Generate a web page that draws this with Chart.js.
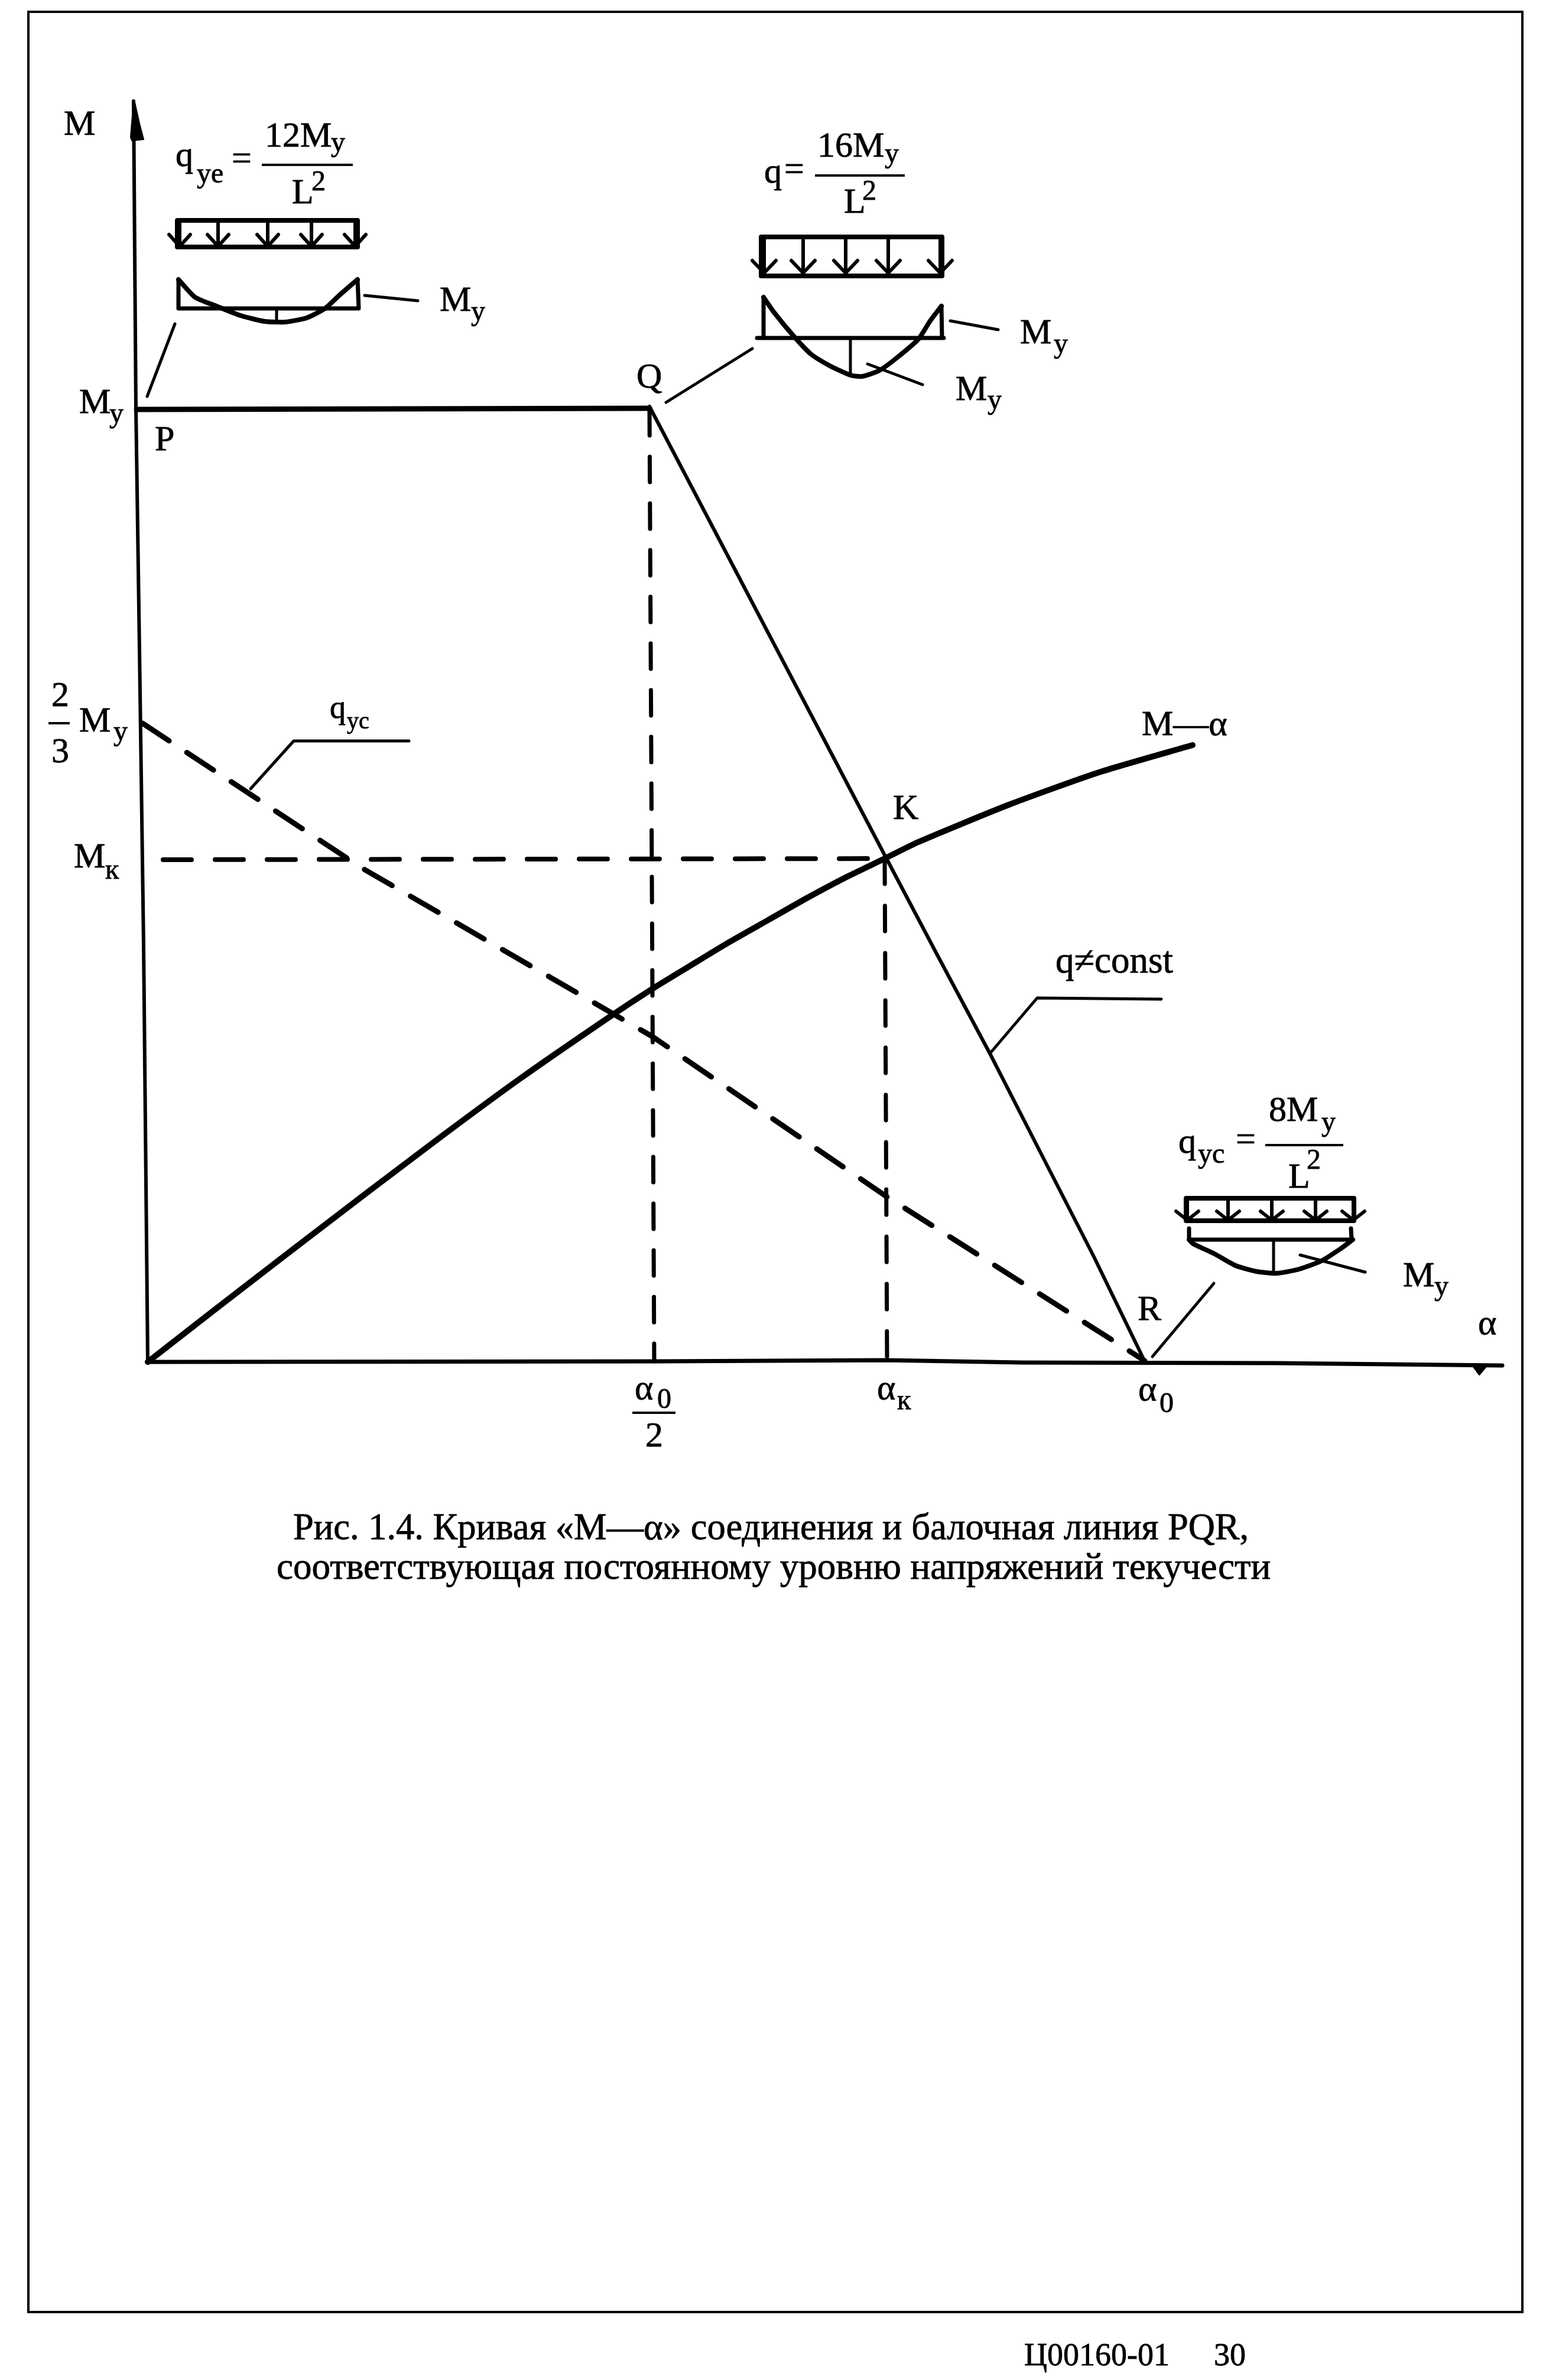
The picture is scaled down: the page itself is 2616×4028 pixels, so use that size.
<!DOCTYPE html>
<html>
<head>
<meta charset="utf-8">
<style>
  html, body { margin: 0; padding: 0; background: #fff; }
  #page { position: relative; width: 2616px; height: 4028px; overflow: hidden; }
  #frame { position: absolute; left: 46px; top: 18px; width: 2524px; height: 3889px; border: 4px solid #000; }
  canvas { position: absolute; left: 0; top: 0; }
</style>
<script src="https://cdn.jsdelivr.net/npm/chart.js@4/dist/chart.umd.min.js"></script>
</head>
<body>
<div id="page">
  <div id="frame"></div>
  <canvas id="chart" width="2616" height="4028"></canvas>
</div>
<script>
// axes (they lean a bit)
const yAxisAlpha = [0, -7, -14, -20, -24];
const yAxisMoment = [0, 705, 1205, 1612, 2134];
const xAxisAlpha = [0, 857, 1250, 1480, 1911, 2292];
const xAxisMoment = [0, 1, 3, -1, -2, -6];
const yArrowAlpha = [-24, -29, -27, -7, -14, -22];
const yArrowMoment = [2134, 2073, 2067, 2069, 2096, 2132];
const xArrowAlpha = [2239, 2253, 2264];
const xArrowMoment = [-3, -22, -9];

// main curves
const curveAlpha = [0, 118, 245, 373, 500, 628, 780, 850, 917, 983, 1050, 1117, 1183, 1247, 1304, 1457, 1610, 1768];
const curveMoment = [0, 92, 190, 288, 384, 478, 583, 629, 670, 710, 748, 786, 821, 852, 880, 943, 998, 1044];
const plateauAlpha = [-19, 849];
const plateauMoment = [1612, 1614];
const beamLineAlpha = [849, 1250, 1338, 1425, 1517, 1600, 1687];
const beamLineMoment = [1617, 852, 685, 522, 342, 180, 1];
const uniformAlpha = [-9, 364, 855, 1250, 1687];
const uniformMoment = [1081, 835, 550, 280, 2];

// dashed guides
const guideMkAlpha = [26, 1248];
const guideMkMoment = [850, 852];
const guideHalfAlpha = [849, 853, 857];
const guideHalfMoment = [1611, 825, 1];
const guideKAlpha = [1247, 1251];
const guideKMoment = [852, 3];

// leaders
const leaders = [
  [[-1, 46], [1634, 1757]],
  [[877, 1023], [1624, 1715]],
  [[1425, 1505, 1715], [522, 616, 614]],
  [[174, 247, 442], [970, 1051, 1051]],
  [[1700, 1804], [9, 133]],
  [[367, 457], [1805, 1796]],
  [[1358, 1439], [1762, 1747]],
  [[1218, 1311], [1689, 1654]],
  [[1950, 2060], [181, 152]]
];

// fraction bars
const fractionBars = [
  [[193, 347], [2026, 2026]],
  [[1129, 1281], [2008, 2008]],
  [[1891, 2023], [367, 367]],
  [[-168, -132], [1081, 1081]],
  [[820, 893], [-86, -86]]
];

// the three little beams: load block, arrows, moment diagram
const loadFrames = [
  [[50, 355, 355, 50, 50], [1932, 1932, 1887, 1887, 1932]],
  [[1038, 1344, 1344, 1038, 1038], [1904, 1904, 1838, 1838, 1904]],
  [[1757, 2041, 2041, 1757, 1757], [277, 277, 239, 239, 277]]
];
const loadArrowsAlpha = [
  [54, 119, 203, 277, 351],
  [1043, 1109, 1181, 1253, 1341],
  [1759, 1828, 1902, 1976, 2040]
];
const loadArrowTop = [1932, 1904, 277];
const loadArrowTip = [1888, 1843, 240];
const loadArrowBarb = [1908, 1864, 255];
const loadArrowSpread = [18, 20, 19];

const momentOutlines = [
  [[355, 357, 52, 52], [1832, 1783, 1783, 1832]],
  [[1343, 1344, 1347, 1031, 1042, 1042], [1787, 1733, 1733, 1733, 1733, 1802]],
  [[2036, 2037, 1762, 1762], [226, 207, 207, 226]]
];
const momentCurves = [
  [[52, 80, 116, 157, 198, 233, 269, 300, 325, 355], [1832, 1802, 1787, 1771, 1761, 1760, 1767, 1783, 1806, 1832]],
  [[1042, 1060, 1094, 1123, 1152, 1189, 1209, 1238, 1267, 1304, 1324, 1343], [1802, 1776, 1735, 1705, 1687, 1670, 1668, 1678, 1699, 1731, 1762, 1787]],
  [[1762, 1769, 1805, 1841, 1877, 1910, 1948, 1986, 2019, 2039], [207, 200, 183, 163, 153, 150, 157, 171, 192, 207]]
];
const momentMids = [
  [[218, 218], [1781, 1761]],
  [[1189, 1189], [1730, 1672]],
  [[1905, 1905], [204, 152]]
];

// tick labels
const xTickLabels = ["α", "0", "2", "α", "к", "α", "0"];
const yTickLabels = ["M", "y", "2", "3", "M", "y", "M", "к"];
const axisTitles = ["M", "α"];
const pointNames = ["P", "Q", "K", "R"];
const captionLines = [
  "Рис. 1.4. Кривая «М—α» соединения и балочная линия PQR,",
  "соответствующая постоянному уровню напряжений текучести"
];
const footerTexts = ["Ц00160-01", "30"];

const MAIN = 60, SUB = 48;

// text placement in axis units: [text, alpha, moment, px size]
const notes = [
  [axisTitles[0], -142, 2077, MAIN],
  [axisTitles[1], 2251, 47, MAIN],

  [xTickLabels[0], 824, -63, MAIN], [xTickLabels[1], 862, -78, SUB], [xTickLabels[2], 842, -143, MAIN],
  [xTickLabels[3], 1234, -63, MAIN], [xTickLabels[4], 1268, -80, SUB],
  [xTickLabels[5], 1676, -65, MAIN], [xTickLabels[6], 1712, -85, SUB],

  [yTickLabels[0], -116, 1606, MAIN], [yTickLabels[1], -65, 1590, SUB],
  [yTickLabels[2], -163, 1110, MAIN], [yTickLabels[3], -163, 1015, MAIN],
  [yTickLabels[4], -116, 1067, MAIN], [yTickLabels[5], -58, 1052, SUB],
  [yTickLabels[6], -125, 837, MAIN], [yTickLabels[7], -72, 818, SUB],

  [pointNames[0], 12, 1543, MAIN], [pointNames[1], 827, 1649, MAIN],
  [pointNames[2], 1261, 919, MAIN], [pointNames[3], 1675, 71, MAIN],

  ["M—α", 1682, 1061, MAIN],
  ["q≠const", 1536, 659, 63],
  ["q", 308, 1090, 54], ["yc", 337, 1072, 40],

  // formula over beam 1
  ["q", 47, 2024, MAIN], ["ye", 83, 1996, SUB], ["=", 142, 2018, MAIN],
  ["12M", 198, 2057, MAIN], ["y", 310, 2049, SUB], ["L", 244, 1961, MAIN], ["2", 277, 1983, SUB],
  ["M", 494, 1779, MAIN], ["y", 547, 1763, SUB],

  // formula over beam 2
  ["q", 1043, 1996, MAIN], ["=", 1077, 2000, MAIN],
  ["16M", 1133, 2040, MAIN], ["y", 1247, 2030, SUB], ["L", 1178, 1945, MAIN], ["2", 1209, 1967, SUB],
  ["M", 1476, 1724, MAIN], ["y", 1533, 1708, SUB],
  ["M", 1367, 1628, MAIN], ["y", 1421, 1613, SUB],

  // formula over beam 3
  ["q", 1744, 354, MAIN], ["yc", 1777, 337, SUB], ["=", 1841, 358, MAIN],
  ["8M", 1897, 408, MAIN], ["y", 1986, 391, SUB], ["L", 1930, 295, MAIN], ["2", 1961, 327, SUB],
  ["M", 2124, 128, MAIN], ["y", 2177, 113, SUB],

  // caption and footer
  [captionLines[0], 246, -300, 62.5],
  [captionLines[1], 218, -367, 63],
  [footerTexts[0], 1483, -1698, 54],
  [footerTexts[1], 1804, -1698, 54]
];

function line(xs, ys, width, extra) {
  return Object.assign({
    data: xs.map((x, i) => ({ x: x, y: ys[i] })),
    showLine: true,
    borderColor: "#000",
    backgroundColor: "#000",
    borderWidth: width,
    borderCapStyle: "round",
    borderJoinStyle: "round",
    pointRadius: 0,
    tension: 0,
    fill: false
  }, extra || {});
}

// one stroke down, then the two barbs back from the tip
function arrowPath(x, top, tip, barb, spread) {
  return [
    [x, x, x - spread, x, x + spread],
    [top, tip, barb, tip, barb]
  ];
}

const datasets = [
  line(yAxisAlpha, yAxisMoment, 6),
  line(xAxisAlpha, xAxisMoment, 7),
  line(yArrowAlpha, yArrowMoment, 2, { fill: "shape" }),
  line(xArrowAlpha, xArrowMoment, 2, { fill: "shape" }),
  line(curveAlpha, curveMoment, 10, { tension: 0.2 }),
  line(plateauAlpha, plateauMoment, 9),
  line(beamLineAlpha, beamLineMoment, 6),
  line(uniformAlpha, uniformMoment, 9, { borderDash: [54, 36] }),
  line(guideMkAlpha, guideMkMoment, 8, { borderDash: [48, 40] }),
  line(guideHalfAlpha, guideHalfMoment, 7, { borderDash: [43, 36] }),
  line(guideKAlpha, guideKMoment, 7, { borderDash: [43, 37] })
];
leaders.forEach(l => datasets.push(line(l[0], l[1], 5)));
fractionBars.forEach(b => datasets.push(line(b[0], b[1], 4, { borderCapStyle: "butt" })));
loadFrames.forEach(f => datasets.push(line(f[0], f[1], 8)));
loadArrowsAlpha.forEach((xs, k) => {
  xs.forEach(x => {
    const p = arrowPath(x, loadArrowTop[k], loadArrowTip[k], loadArrowBarb[k], loadArrowSpread[k]);
    datasets.push(line(p[0], p[1], 6));
  });
});
momentOutlines.forEach(m => datasets.push(line(m[0], m[1], 7)));
momentCurves.forEach(m => datasets.push(line(m[0], m[1], 8, { tension: 0.2 })));
momentMids.forEach(m => datasets.push(line(m[0], m[1], 5)));

const notesPlugin = {
  id: "notes",
  afterDatasetsDraw(chart) {
    const ctx = chart.ctx;
    const sx = chart.scales.x, sy = chart.scales.y;
    ctx.save();
    ctx.fillStyle = "#000";
    ctx.strokeStyle = "#000";
    ctx.lineWidth = 0.8;
    ctx.textBaseline = "alphabetic";
    ctx.textAlign = "left";
    notes.forEach(n => {
      ctx.font = n[3] + 'px "Liberation Serif"';
      const px = sx.getPixelForValue(n[1]), py = sy.getPixelForValue(n[2]);
      ctx.fillText(n[0], px, py);
      ctx.strokeText(n[0], px, py); // the scan's type is a bit heavier
    });
    ctx.restore();
  }
};

new Chart(document.getElementById("chart"), {
  type: "scatter",
  data: { datasets: datasets },
  options: {
    responsive: false,
    animation: false,
    layout: { padding: 0 },
    plugins: { legend: { display: false }, tooltip: { enabled: false }, title: { display: false } },
    scales: {
      x: { type: "linear", min: -250, max: 2366, display: false },
      y: { type: "linear", min: -1723, max: 2305, display: false }
    }
  },
  plugins: [notesPlugin]
});
</script>
</body>
</html>
